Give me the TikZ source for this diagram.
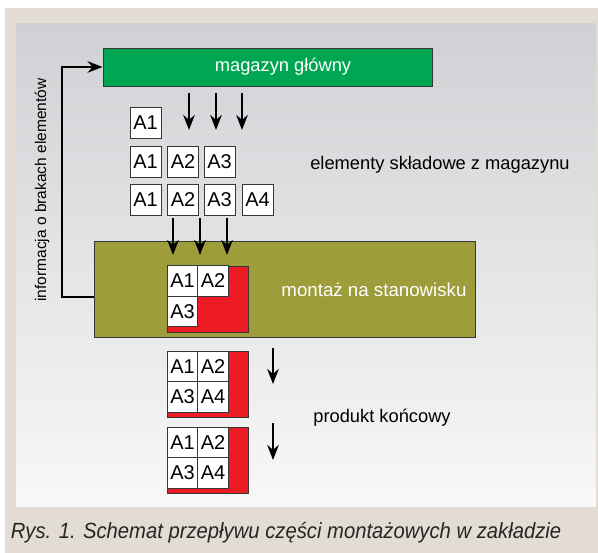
\documentclass[tikz,border=0pt]{standalone}
\usepackage{fontspec}
\setmainfont{Liberation Sans}
\newfontfamily\podpisfont[FakeStretch=0.92]{Liberation Sans}
\usetikzlibrary{arrows.meta}

\definecolor{ramka}{RGB}{226,220,211}
\definecolor{tlogora}{RGB}{207,209,212}
\definecolor{tlodol}{RGB}{248,248,248}
\definecolor{zielony}{RGB}{0,166,81}
\definecolor{oliwka}{RGB}{157,158,59}
\definecolor{czerwony}{RGB}{237,28,36}
\definecolor{obrys}{RGB}{55,55,55}

\tikzset{
  element/.style={draw=obrys, fill=white, line width=0.9pt, minimum width=31pt,
    minimum height=31pt, inner sep=0pt, font=\fontsize{20}{20}\selectfont},
  komorka/.style={element, minimum width=30.5pt, minimum height=30.5pt},
  produkt/.style={draw=obrys, fill=czerwony, line width=0.9pt, inner sep=0pt,
    minimum width=81pt, minimum height=66pt},
  blok/.style={draw=obrys, line width=0.9pt, inner sep=0pt},
  opis/.style={font=\fontsize{18.3}{18.3}\selectfont},
  strzalka/.style={line width=2.5pt, -{Stealth[length=15pt,width=11.5pt]}}
}

\begin{document}
\begin{tikzpicture}[x=1pt,y=-1pt]
    \useasboundingbox (0,0) rectangle (598,553);
    \fill[white] (0,0) rectangle (598,553);
    \fill[ramka] (5,8) rectangle (598,553);
    \shade[top color=tlogora, bottom color=tlodol] (16,24) rectangle (596,507);

    % magazyn
    \node[blok, fill=zielony, minimum width=329pt, minimum height=38pt] (magazyn) at (267.5,67) {};
    \node[opis, text=white] (magazynTxt) at (283,67) {magazyn główny};

    % elementy z magazynu
    \node[element] (r1a1) at (145.5,122.5) {A1};
    \node[element] (r2a1) at (145.5,162) {A1};
    \node[element] (r2a2) at (183,162) {A2};
    \node[element] (r2a3) at (219.5,162) {A3};
    \node[element] (r3a1) at (145.5,199.5) {A1};
    \node[element] (r3a2) at (183,199.5) {A2};
    \node[element] (r3a3) at (219.5,199.5) {A3};
    \node[element] (r3a4) at (257.5,199.5) {A4};
    \node[opis] (skladowe) at (440,165) {elementy składowe z magazynu};

    % montaz
    \node[blok, fill=oliwka, minimum width=381pt, minimum height=96pt] (montaz) at (284.5,289) {};
    \node[opis, text=white, font=\fontsize{18.7}{18.7}\selectfont] (montazTxt) at (374,290) {montaż na stanowisku};
    \node[produkt] (p1) at (207.5,299) {};
    \node[komorka] (p1a1) at (182.5,281) {A1};
    \node[komorka] (p1a2) at (213,281) {A2};
    \node[komorka] (p1a3) at (182.5,311.5) {A3};

    % produkt koncowy
    \node[produkt] (p2) at (207.5,384) {};
    \node[komorka] (p2a1) at (182.5,366.5) {A1};
    \node[komorka] (p2a2) at (213,366.5) {A2};
    \node[komorka] (p2a3) at (182.5,397) {A3};
    \node[komorka] (p2a4) at (213,397) {A4};
    \node[produkt] (p3) at (207.5,460) {};
    \node[komorka] (p3a1) at (182.5,442.5) {A1};
    \node[komorka] (p3a2) at (213,442.5) {A2};
    \node[komorka] (p3a3) at (182.5,473) {A3};
    \node[komorka] (p3a4) at (213,473) {A4};
    \node[opis] (koncowy) at (382,418) {produkt końcowy};

    % strzalki
    \foreach \x/\n in {189/a,216/b,242/c}{
      \coordinate (g\n) at (\x,93);
      \coordinate (d\n) at (\x,130);
      \draw[strzalka] (g\n) -- (d\n);
    }
    \foreach \x/\n in {173/a,200/b,227/c}{
      \coordinate (s\n) at (\x,218);
      \coordinate (m\n) at (\x,255);
      \draw[strzalka] (s\n) -- (m\n);
    }
    \coordinate (k1) at (273,348);
    \coordinate (k2) at (273,384);
    \coordinate (k3) at (273,423);
    \coordinate (k4) at (273,460);
    \draw[strzalka] (k1) -- (k2);
    \draw[strzalka] (k3) -- (k4);

    % informacja zwrotna
    \coordinate (zwrot) at (94,297);
    \draw[strzalka] (zwrot) -- (62,297) |- (magazyn.west);
    \node[rotate=90, font=\fontsize{15.5}{15.5}\selectfont] (braki) at (42,190) {informacja o brakach elementów};

    \node[font=\podpisfont\itshape\fontsize{22}{22}\selectfont, text=black!85] (podpis) at (286,533)
      {Rys. 1. Schemat przepływu części montażowych w zakładzie};
\end{tikzpicture}
\end{document}
